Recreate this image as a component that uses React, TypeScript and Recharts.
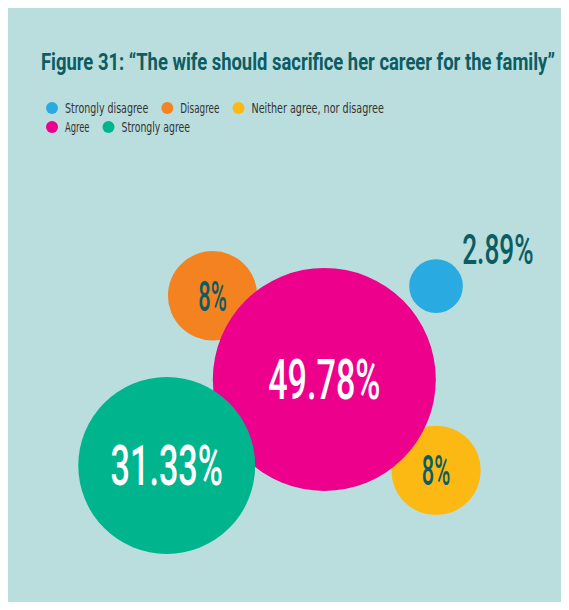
import { ScatterChart, Scatter, XAxis, YAxis, ZAxis } from "recharts"

const categories = [
  "Strongly disagree",
  "Disagree",
  "Neither agree, nor disagree",
  "Agree",
  "Strongly agree",
]
const shares = [2.89, 8, 8, 49.78, 31.33]
const colors = ["#29aae1", "#f58220", "#fdb913", "#ec008c", "#00b48e"]
const labelColors = ["#0c5c63", "#0c5c63", "#0c5c63", "#ffffff", "#ffffff"]
// bubble centres on a 0–100 grid
const posX = [77.4, 37.0, 77.4, 57.2, 28.7]
const posY = [53.8, 52.2, 23.2, 38.3, 24.0]
// painting order: magenta sits over the small ones, green over magenta
const drawOrder = [1, 2, 0, 3, 4]
const legendRows = [
  [0, 1, 2],
  [3, 4],
]

const W = 553
const H = 602
const BG = "#badedd"
const DARK = "#0c5c63"
const NUM_FONT = "Roboto, 'DejaVu Sans Condensed', sans-serif"
const TEXT_FONT = "'DejaVu Sans Condensed', 'Liberation Sans Narrow', Roboto, sans-serif"

const data = categories.map((name, i) => ({
  name,
  x: posX[i],
  y: posY[i],
  z: shares[i],
  color: colors[i],
  labelColor: labelColors[i],
}))

// condensed look: smaller glyphs stretched vertically
function Tall({ x, y, size, k, width, ...rest }: any) {
  return (
    <text
      transform={`translate(${x},${y}) scale(1,${k})`}
      x={0}
      y={0}
      fontSize={size}
      textLength={width}
      lengthAdjust="spacingAndGlyphs"
      {...rest}
    />
  )
}

function Bubble(props: any) {
  const { cx, cy, payload } = props
  const r = props.width ? props.width / 2 : Math.sqrt(props.size / Math.PI)
  const text = `${payload.z}%`
  const fs = r > 70 ? 55 : 42
  const outside = r < 35
  const tx = outside ? cx + r + 35 : cx
  const ty = outside ? cy - r + 5 : cy + fs * 0.36
  return (
    <g>
      <circle cx={cx} cy={cy} r={r} fill={payload.color} />
      <Tall
        x={tx}
        y={ty}
        size={fs * 0.6}
        k={1 / 0.6}
        width={fs * 0.34 * text.length}
        textAnchor="middle"
        fill={payload.labelColor}
        fontFamily={NUM_FONT}
        fontWeight={500}
      >
        {text}
      </Tall>
    </g>
  )
}

function Header() {
  const rowY = [100, 119]
  return (
    <svg
      width={W + 5}
      height={140}
      style={{ position: "absolute", left: 0, top: 0, pointerEvents: "none" }}
    >
      <Tall
        x={33}
        y={62}
        size={14}
        k={24 / 14}
        width={514}
        fill={DARK}
        fontFamily="Roboto, sans-serif"
        fontWeight={700}
      >
        Figure 31: “The wife should sacrifice her career for the family”
      </Tall>
      {legendRows.map((row, ri) => {
        let x = 44
        return row.map((i) => {
          const dot = x
          const tw = categories[i].length * 4.9
          x = dot + 13 + tw + 19
          return (
            <g key={i}>
              <circle cx={dot} cy={rowY[ri]} r={6} fill={colors[i]} />
              <text
                x={dot + 13}
                y={rowY[ri] + 5}
                fill="#333"
                fontFamily={TEXT_FONT}
                fontSize={14}
                textLength={tw}
                lengthAdjust="spacingAndGlyphs"
              >
                {categories[i]}
              </text>
            </g>
          )
        })
      })}
    </svg>
  )
}

export default function App() {
  return (
    <div
      style={{
        position: "relative",
        width: W + 5,
        height: H,
        background: BG,
        marginBottom: -8,
      }}
    >
      <ScatterChart width={W} height={H} margin={{ top: 0, right: 0, bottom: 0, left: 0 }}>
        <XAxis type="number" dataKey="x" domain={[0, 100]} hide />
        <YAxis type="number" dataKey="y" domain={[0, 100]} hide />
        <ZAxis type="number" dataKey="z" domain={[0, 49.78]} range={[0, 39057]} />
        {drawOrder.map((i) => (
          <Scatter
            key={categories[i]}
            name={categories[i]}
            data={[data[i]]}
            fill={colors[i]}
            shape={Bubble}
            isAnimationActive={false}
          />
        ))}
      </ScatterChart>
      <Header />
    </div>
  )
}
